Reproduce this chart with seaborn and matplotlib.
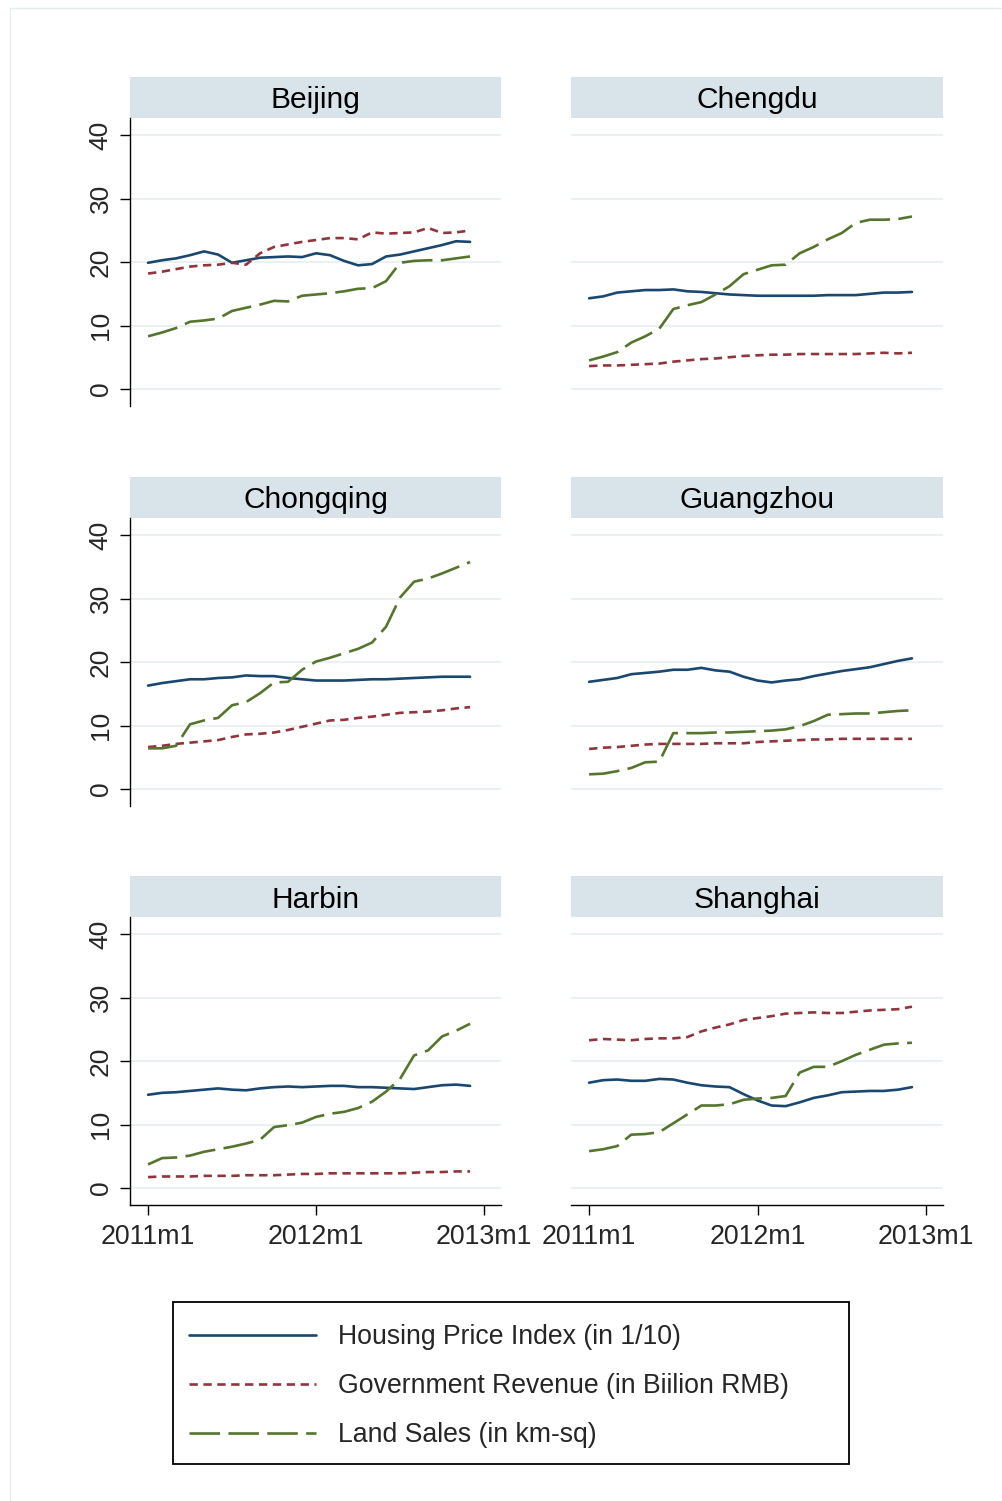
import numpy as np
import pandas as pd
import matplotlib
matplotlib.use("Agg")
import matplotlib.pyplot as plt
import seaborn as sns
from matplotlib.lines import Line2D
from matplotlib.patches import Rectangle

# ---- data: monthly series, 2011m1 .. 2012m12 ----
months = pd.period_range("2011-01", "2012-12", freq="M")
cities = ["Beijing", "Chengdu", "Chongqing", "Guangzhou", "Harbin", "Shanghai"]
series_names = ["Housing Price Index (in 1/10)",
                "Government Revenue (in Biilion RMB)",
                "Land Sales (in km-sq)"]
x_tick_labels = ["2011m1", "2012m1", "2013m1"]
y_ticks = [0, 10, 20, 30, 40]

beijing_hpi = [19.9, 20.3, 20.6, 21.1, 21.7, 21.2, 19.9, 20.3, 20.7, 20.8, 20.9, 20.8,
               21.4, 21.1, 20.2, 19.5, 19.7, 20.9, 21.2, 21.7, 22.2, 22.7, 23.3, 23.2]
beijing_rev = [18.2, 18.5, 18.9, 19.3, 19.5, 19.6, 19.9, 19.6, 21.4, 22.4, 22.8, 23.2,
               23.5, 23.8, 23.8, 23.6, 24.7, 24.5, 24.6, 24.7, 25.4, 24.6, 24.7, 25.0]
beijing_land = [8.3, 8.9, 9.6, 10.6, 10.8, 11.1, 12.3, 12.8, 13.3, 13.9, 13.8, 14.7,
                14.9, 15.1, 15.4, 15.8, 15.9, 17.0, 19.9, 20.2, 20.3, 20.3, 20.6, 20.9]

chengdu_hpi = [14.3, 14.6, 15.2, 15.4, 15.6, 15.6, 15.7, 15.4, 15.3, 15.1, 14.9, 14.8,
               14.7, 14.7, 14.7, 14.7, 14.7, 14.8, 14.8, 14.8, 15.0, 15.2, 15.2, 15.3]
chengdu_rev = [3.6, 3.7, 3.7, 3.8, 3.9, 4.0, 4.3, 4.5, 4.7, 4.8, 5.0, 5.2,
               5.3, 5.4, 5.4, 5.5, 5.5, 5.5, 5.5, 5.5, 5.6, 5.7, 5.6, 5.7]
chengdu_land = [4.5, 5.1, 5.8, 7.3, 8.3, 9.5, 12.6, 13.2, 13.7, 14.9, 16.2, 18.1,
                18.8, 19.5, 19.6, 21.4, 22.4, 23.6, 24.6, 26.2, 26.7, 26.7, 26.8, 27.2]

chongqing_hpi = [16.3, 16.7, 17.0, 17.3, 17.3, 17.5, 17.6, 17.9, 17.8, 17.8, 17.5, 17.3,
                 17.1, 17.1, 17.1, 17.2, 17.3, 17.3, 17.4, 17.5, 17.6, 17.7, 17.7, 17.7]
chongqing_rev = [6.6, 6.8, 7.1, 7.3, 7.5, 7.7, 8.2, 8.6, 8.7, 8.9, 9.3, 9.8,
                 10.3, 10.8, 10.9, 11.2, 11.4, 11.7, 12.0, 12.1, 12.2, 12.4, 12.7, 12.9]
chongqing_land = [6.4, 6.4, 6.8, 10.2, 10.8, 11.2, 13.2, 13.7, 15.1, 16.8, 16.9, 18.8,
                  20.1, 20.7, 21.4, 22.1, 23.1, 25.6, 30.2, 32.7, 33.2, 34.0, 34.9, 35.8]

guangzhou_hpi = [16.9, 17.2, 17.5, 18.1, 18.3, 18.5, 18.8, 18.8, 19.1, 18.7, 18.5, 17.7,
                 17.1, 16.8, 17.1, 17.3, 17.8, 18.2, 18.6, 18.9, 19.2, 19.7, 20.2, 20.6]
guangzhou_rev = [6.3, 6.5, 6.6, 6.8, 7.0, 7.1, 7.1, 7.1, 7.1, 7.2, 7.2, 7.2,
                 7.4, 7.5, 7.6, 7.7, 7.8, 7.8, 7.9, 7.9, 7.9, 7.9, 7.9, 7.9]
guangzhou_land = [2.3, 2.4, 2.8, 3.3, 4.2, 4.3, 8.8, 8.8, 8.8, 8.9, 8.9, 9.0,
                  9.1, 9.2, 9.4, 9.9, 10.7, 11.7, 11.8, 11.9, 11.9, 12.1, 12.3, 12.4]

harbin_hpi = [14.7, 15.0, 15.1, 15.3, 15.5, 15.7, 15.5, 15.4, 15.7, 15.9, 16.0, 15.9,
              16.0, 16.1, 16.1, 15.9, 15.9, 15.8, 15.7, 15.6, 15.9, 16.2, 16.3, 16.1]
harbin_rev = [1.7, 1.8, 1.8, 1.8, 1.9, 1.9, 1.9, 2.0, 2.0, 2.0, 2.1, 2.2,
              2.2, 2.3, 2.3, 2.3, 2.3, 2.3, 2.3, 2.4, 2.5, 2.5, 2.6, 2.6]
harbin_land = [3.7, 4.7, 4.8, 5.1, 5.7, 6.1, 6.5, 7.0, 7.6, 9.6, 9.9, 10.3,
               11.2, 11.7, 12.0, 12.6, 13.6, 15.2, 17.2, 20.9, 21.7, 23.9, 24.8, 25.9]

shanghai_hpi = [16.6, 17.0, 17.1, 16.9, 16.9, 17.2, 17.1, 16.6, 16.2, 16.0, 15.9, 14.8,
                13.8, 13.0, 12.9, 13.5, 14.2, 14.6, 15.1, 15.2, 15.3, 15.3, 15.5, 15.9]
shanghai_rev = [23.3, 23.5, 23.4, 23.3, 23.5, 23.6, 23.6, 23.8, 24.7, 25.3, 25.8, 26.5,
                26.8, 27.1, 27.5, 27.6, 27.7, 27.6, 27.6, 27.8, 28.0, 28.1, 28.2, 28.6]
shanghai_land = [5.8, 6.1, 6.6, 8.4, 8.5, 8.8, 10.2, 11.6, 13.0, 13.0, 13.2, 13.9,
                 14.1, 14.2, 14.5, 18.2, 19.1, 19.1, 20.0, 21.0, 21.8, 22.6, 22.8, 22.9]

city_series = {
    "Beijing": (beijing_hpi, beijing_rev, beijing_land),
    "Chengdu": (chengdu_hpi, chengdu_rev, chengdu_land),
    "Chongqing": (chongqing_hpi, chongqing_rev, chongqing_land),
    "Guangzhou": (guangzhou_hpi, guangzhou_rev, guangzhou_land),
    "Harbin": (harbin_hpi, harbin_rev, harbin_land),
    "Shanghai": (shanghai_hpi, shanghai_rev, shanghai_land),
}

# months elapsed since 2011m1
t = np.array([(m - months[0]).n for m in months])

rows = []
for city in cities:
    for name, vals in zip(series_names, city_series[city]):
        for ti, v in zip(t, vals):
            rows.append({"city": city, "series": name, "t": ti, "value": v})
df = pd.DataFrame(rows)

# ---- style ----
sns.set_style("white")
plt.rcParams["font.family"] = ["Liberation Sans", "DejaVu Sans"]
plt.rcParams["lines.scale_dashes"] = False

palette = dict(zip(series_names, ["#1a476f", "#90353b", "#55752f"]))
dashes = dict(zip(series_names, ["", (6, 4), (22, 6)]))
strip_color = "#d9e3ea"
grid_color = "#e9f1f3"
LW = 1.9

W, H = 1002, 1501
fig = plt.figure(figsize=(W / 100, H / 100), dpi=100)

col_x = [(130, 501), (571, 943)]
row_y = [(118, 406), (518, 806), (917, 1205)]
tick_pos = [0, 12, 24]

for i, city in enumerate(cities):
    r, c = divmod(i, 2)
    x0, x1 = col_x[c]
    y0, y1 = row_y[r]
    ax = fig.add_axes([x0 / W, 1 - y1 / H, (x1 - x0) / W, (y1 - y0) / H])
    sns.lineplot(data=df[df.city == city], x="t", y="value", hue="series",
                 style="series", palette=palette, dashes=dashes,
                 hue_order=series_names, style_order=series_names,
                 linewidth=LW, legend=False, ax=ax)
    ax.set_xlim(-1.29, 25.21)
    ax.set_ylim(-2.7, 42.75)
    ax.set_xlabel("")
    ax.set_ylabel("")
    ax.set_yticks(y_ticks)
    ax.set_xticks(tick_pos)
    ax.set_xticklabels(x_tick_labels)
    ax.grid(axis="y", color=grid_color, lw=1.5)
    ax.grid(axis="x", visible=False)
    ax.set_axisbelow(True)
    for s in ["top", "right"]:
        ax.spines[s].set_visible(False)
    ax.spines["left"].set_visible(c == 0)
    ax.spines["bottom"].set_visible(r == 2)
    for s in ["left", "bottom"]:
        ax.spines[s].set_color("#000000")
        ax.spines[s].set_linewidth(1.0)

    if c == 0:
        ax.tick_params(axis="y", left=True, length=7.5, width=1.0, color="black",
                       labelsize=19, pad=5, labelrotation=90)
        for lab in ax.get_yticklabels():
            lab.set_va("center")
    else:
        ax.tick_params(axis="y", left=False, labelleft=False)
    if r == 2:
        ax.tick_params(axis="x", bottom=True, length=7.5, width=1.0, color="black",
                       labelsize=19.3, pad=6)
    else:
        ax.tick_params(axis="x", bottom=False, labelbottom=False)

    # facet strip
    strip_h = 41 / (y1 - y0)
    ax.add_patch(Rectangle((0, 1), 1, strip_h, transform=ax.transAxes,
                           facecolor=strip_color, edgecolor="none", clip_on=False))
    ax.text(0.5, 1 + (strip_h / 2) - 3 / (y1 - y0), city, transform=ax.transAxes,
            ha="center", va="center", fontsize=21.5, color="black")

# legend
handles = [Line2D([], [], color=palette[n], lw=LW,
                  linestyle="-" if dashes[n] == "" else (0, dashes[n]))
           for n in series_names]
fig.legend(handles, series_names, loc="upper left",
           bbox_to_anchor=(189 / W, 1 - 1324 / H), frameon=False,
           borderpad=0, borderaxespad=0, handlelength=4.75, handletextpad=0.85,
           labelspacing=0.87, fontsize=19.2)
fig.add_artist(Rectangle((173 / W, 1 - 1464 / H), (849 - 173) / W, (1464 - 1302) / H,
                         transform=fig.transFigure, facecolor="none",
                         edgecolor="black", lw=1.3))

# outer frame
fig.add_artist(Line2D([10 / W, 10 / W], [0, 1 - 8 / H], transform=fig.transFigure,
                      color="#e4eef0", lw=1.0))
fig.add_artist(Line2D([10 / W, 1], [1 - 8 / H, 1 - 8 / H], transform=fig.transFigure,
                      color="#e4eef0", lw=1.0))

fig.savefig("out.png", dpi=100)
